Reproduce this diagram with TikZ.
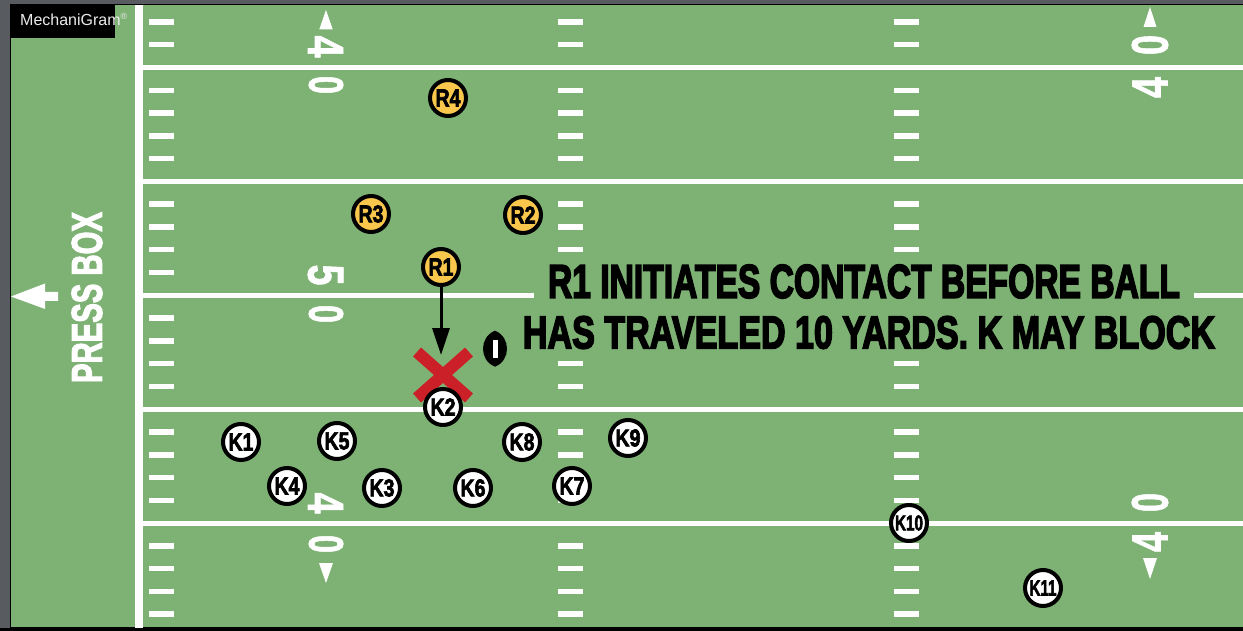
\documentclass[tikz,border=0pt]{standalone}
\usepackage{fontspec}
\setmainfont{Liberation Sans}
\newfontfamily\heavyfont{Liberation Sans}[BoldFeatures={FakeBold=3}]
\newfontfamily\blackfont{Liberation Sans}[BoldFeatures={FakeBold=4}]
\newfontfamily\midfont{Liberation Sans}[BoldFeatures={FakeBold=1.5}]
\usepackage{graphicx}
\usetikzlibrary{arrows.meta}
\definecolor{field}{RGB}{126,178,116}
\definecolor{frame}{RGB}{88,91,96}
\definecolor{rgold}{RGB}{249,199,76}
\definecolor{xred}{RGB}{204,32,40}
\newcommand{\fitbox}[3]{\resizebox{#1pt}{#2pt}{\heavyfont\bfseries #3}}
\newcommand{\msgbox}[3]{\resizebox{#1pt}{#2pt}{\blackfont\bfseries #3}}
\newcommand{\digbox}[3]{\resizebox{#1pt}{#2pt}{\midfont\bfseries #3}}
\begin{document}
\begin{tikzpicture}[x=1pt,y=-1pt,
  player/.style={circle, draw=black, line width=4pt, minimum size=36pt, inner sep=0pt},
  kteam/.style={player, fill=white},
  rteam/.style={player, fill=rgold},
  yardline/.style={white, line width=5pt},
  digit/.style={text=white, inner sep=0pt},
  msg/.style={fill=field, inner ysep=8pt, inner xsep=14pt},
]
\useasboundingbox (0,0) rectangle (1243,631);
% frame and field
\fill[frame] (0,0) rectangle (1243,631);
\fill[black] (0,628) rectangle (1243,631);
\filldraw[fill=field, draw=black, line width=1.2pt] (10.6,4.6) rectangle (1245,628);
% sideline
\fill[white] (135,5) rectangle (142.5,627.5);
% yard lines
\foreach \y in {67.5,181.4,295.3,409.1,523}
  \draw[yardline] (142.5,\y) -- (1243,\y);
% hash marks
\foreach \k in {-2,...,24}{
  \pgfmathtruncatemacro{\m}{mod(\k+10,5)}
  \ifnum\m=0\else
    \pgfmathsetmacro{\yy}{67.5+22.78*\k}
    \foreach \xx in {149,558,894}
      \fill[white] (\xx,\yy-2.75) rectangle (\xx+25,\yy+2.75);
  \fi
}
% yard numbers, left
\node[digit, rotate=-90] (l40a) at (325.5,46.5) {\digbox{22}{35}{4}};
\node[digit, rotate=-90] (l40b) at (326,85) {\digbox{18}{34}{0}};
\fill[white] (326,10) -- (319.3,29.3) -- (332.7,29.3) -- cycle;
\node[digit, rotate=-90] (l50a) at (325.5,275) {\digbox{21}{35}{5}};
\node[digit, rotate=-90] (l50b) at (326,314) {\digbox{18}{34}{0}};
\node[digit, rotate=-90] (l40c) at (325.5,503) {\digbox{21}{35}{4}};
\node[digit, rotate=-90] (l40d) at (326,544) {\digbox{18}{34}{0}};
\fill[white] (326,583) -- (319,563) -- (333,563) -- cycle;
% yard numbers, right
\node[digit, rotate=90] (r40a) at (1150,45) {\digbox{20}{36}{0}};
\node[digit, rotate=90] (r40b) at (1150,87.5) {\digbox{21}{35}{4}};
\fill[white] (1150,7) -- (1143.5,27) -- (1156.5,27) -- cycle;
\node[digit, rotate=90] (r40c) at (1150,502.5) {\digbox{19}{36}{0}};
\node[digit, rotate=90] (r40d) at (1150,542) {\digbox{20}{35}{4}};
\fill[white] (1150,579) -- (1143,558) -- (1157,558) -- cycle;
% press box
\node[text=white, rotate=90, inner sep=0pt] (pb) at (87,297.5) {\fitbox{171}{30}{PRESS BOX}};
\fill[white] (11,296.5) -- (45,283.5) -- (45,292) -- (58,292) -- (58,301) -- (45,301) -- (45,309) -- cycle;
% logo
\fill[black] (10.6,4) rectangle (115,38);
\node[anchor=base west, text=white!92!black, font=\fontsize{16}{18}\selectfont, inner sep=0pt] (logo) at (20,25.5) {MechaniGram\raisebox{6pt}{\fontsize{9}{9}\selectfont ®}};
% message
\node[msg] (msg1) at (864,281.5) {\msgbox{632}{33}{R1 INITIATES CONTACT BEFORE BALL}};
\node[msg, inner xsep=8pt] (msg2) at (869,332.5) {\msgbox{692}{32}{HAS TRAVELED 10 YARDS. K MAY BLOCK}};
% red X
\draw[xred, line width=12pt] (417,352) -- (469,398) (469,352) -- (417,398);
% football
\fill[black] (495,330.7) .. controls (511,337) and (511,360.5) .. (495,366.7) .. controls (479,360.5) and (479,337) .. cycle;
\fill[white] (493.2,340) rectangle (497.6,358);
% players
\node[rteam] (R4) at (448,98) {\fitbox{25}{17}{R4}};
\node[rteam] (R3) at (371,214) {\fitbox{25}{17}{R3}};
\node[rteam] (R2) at (523,215) {\fitbox{25}{17}{R2}};
\node[rteam] (R1) at (441,267) {\fitbox{25}{17}{R1}};
\node[kteam] (K2) at (443,407) {\fitbox{25}{17}{K2}};
\node[kteam] (K1) at (241,442) {\fitbox{25}{17}{K1}};
\node[kteam] (K5) at (337,441) {\fitbox{25}{17}{K5}};
\node[kteam] (K8) at (522,442) {\fitbox{25}{17}{K8}};
\node[kteam] (K9) at (628,438) {\fitbox{25}{17}{K9}};
\node[kteam] (K4) at (287,486) {\fitbox{25}{17}{K4}};
\node[kteam] (K3) at (382,488) {\fitbox{25}{17}{K3}};
\node[kteam] (K6) at (473,488) {\fitbox{25}{17}{K6}};
\node[kteam] (K7) at (572,486) {\fitbox{25}{17}{K7}};
\node[kteam] (K10) at (909,523) {\fitbox{28}{15}{K10}};
\node[kteam] (K11) at (1043,588) {\fitbox{27}{15}{K11}};
% contact arrow
\coordinate (hit) at (441,355);
\draw[line width=3pt, -{Triangle[width=17pt,length=27pt]}] (R1) -- (hit);
\end{tikzpicture}
\end{document}
